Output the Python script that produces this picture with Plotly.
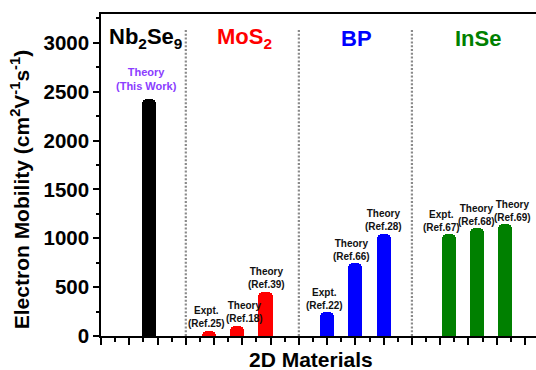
import plotly.graph_objects as go

# Electron mobility of 2D materials (cm^2 V^-1 s^-1)
groups = ["Nb<sub>2</sub>Se<sub>9</sub>", "MoS<sub>2</sub>", "BP", "InSe"]
group_colors = ["#000000", "#FF0000", "#0000FF", "#008000"]

nb2se9_mobility = [2425]
mos2_mobility = [52, 102, 452]
bp_mobility = [242, 743, 1043]
inse_mobility = [1040, 1101, 1142]

nb2se9_labels = ["Theory<br>(This Work)"]
mos2_labels = ["Expt.<br>(Ref.25)", "Theory<br>(Ref.18)", "Theory<br>(Ref.39)"]
bp_labels = ["Expt.<br>(Ref.22)", "Theory<br>(Ref.66)", "Theory<br>(Ref.28)"]
inse_labels = ["Expt.<br>(Ref.67)", "Theory<br>(Ref.68)", "Theory<br>(Ref.69)"]

# bar slots along the x axis
nb2se9_x = [1.69]
mos2_x = [3.82, 4.81, 5.82]
bp_x = [8.0, 9.0, 10.0]
inse_x = [12.3, 13.3, 14.3]

# horizontal nudges of the bar captions
nb2se9_dx = [-0.07]
mos2_dx = [-0.08, 0.28, 0.02]
bp_dx = [-0.08, -0.14, 0.0]
inse_dx = [-0.24, 0.0, 0.25]

separators_x = [3, 7, 11]
group_title_x = [1.56, 5.06, 9.05, 13.35]

series = [
    (nb2se9_x, nb2se9_mobility, nb2se9_labels, nb2se9_dx),
    (mos2_x, mos2_mobility, mos2_labels, mos2_dx),
    (bp_x, bp_mobility, bp_labels, bp_dx),
    (inse_x, inse_mobility, inse_labels, inse_dx),
]

FONT = "Liberation Sans, Arial, sans-serif"

fig = go.Figure()
annotations = []

for gi, (xs, ys, labels, dxs) in enumerate(series):
    color = group_colors[gi]
    fig.add_trace(go.Bar(
        x=xs, y=ys, width=0.5,
        marker=dict(color=color, line=dict(width=0), cornerradius=5),
        showlegend=False, hoverinfo="x+y",
    ))
    for x, y, lab, dx in zip(xs, ys, labels, dxs):
        first = gi == 0
        annotations.append(dict(
            x=x + dx, y=y, xref="x", yref="y",
            text="<b>" + lab + "</b>", showarrow=False,
            xanchor="center", yanchor="middle",
            yshift=19.6 if first else 13.8,
            font=dict(family=FONT, size=11 if first else 10,
                      color="#8B3DFF" if first else "#111111"),
        ))
    annotations.append(dict(
        x=group_title_x[gi], y=0.924, xref="x", yref="paper",
        text="<b>" + groups[gi] + "</b>", showarrow=False,
        xanchor="center", yanchor="middle",
        font=dict(family=FONT, size=22, color=color),
    ))

for sx in separators_x:
    fig.add_shape(type="line", x0=sx, x1=sx, y0=0, y1=3150,
                  xref="x", yref="y",
                  line=dict(color="#8a8a8a", width=2.2, dash="2px,1.8px"),
                  layer="below")

annotations.append(dict(
    x=-0.186, y=0.453, xref="paper", yref="paper",
    text="<b>Electron Mobility (cm<sup>2</sup>V<sup>-1</sup>s<sup>-1</sup>)</b>",
    textangle=-90, showarrow=False, xanchor="center", yanchor="middle",
    font=dict(family=FONT, size=21, color="#000000"),
))
annotations.append(dict(
    x=0.483, y=-0.072, xref="paper", yref="paper",
    text="<b>2D Materials</b>", showarrow=False,
    xanchor="center", yanchor="middle",
    font=dict(family=FONT, size=21, color="#000000"),
))

fig.update_layout(
    width=536, height=370,
    margin=dict(l=101, r=0, t=14, b=34),
    paper_bgcolor="white", plot_bgcolor="white",
    bargap=0, annotations=annotations,
    xaxis=dict(
        range=[0, 15.39], tick0=0, dtick=1, showticklabels=False,
        ticks="outside", ticklen=7, tickwidth=1.5, tickcolor="black",
        minor=dict(dtick=0.5, ticks="outside", ticklen=4, tickwidth=1.5,
                   tickcolor="black"),
        showline=True, linecolor="black", linewidth=1.5, mirror=True,
        showgrid=False, zeroline=False, fixedrange=True,
    ),
    yaxis=dict(
        range=[0, 3295], tick0=0, dtick=500,
        ticks="outside", ticklen=6, tickwidth=1.5, tickcolor="black",
        minor=dict(dtick=250, ticks="outside", ticklen=3.5, tickwidth=1.5,
                   tickcolor="black"),
        tickfont=dict(family=FONT, size=20.5, color="black"),
        tickprefix="<b>", ticksuffix="</b>",
        showline=True, linecolor="black", linewidth=1.5,
        showgrid=False, zeroline=False, fixedrange=True,
    ),
)

fig.write_html("out.html")
